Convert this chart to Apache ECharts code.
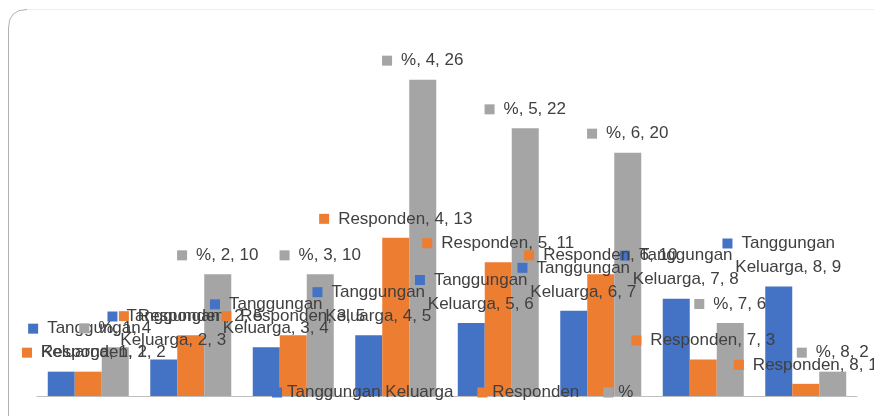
<!DOCTYPE html>
<html>
<head>
<meta charset="utf-8">
<script src="https://cdn.jsdelivr.net/npm/echarts@6/dist/echarts.min.js"></script>
<style>
  html, body { margin: 0; padding: 0; background: #fff; }
  #main { width: 874px; height: 416px; }
</style>
</head>
<body>
<div id="main"></div>
<script>
var categories = ['1', '2', '3', '4', '5', '6', '7', '8'];
var tanggungan = [2, 3, 4, 5, 6, 7, 8, 9];
var responden = [2, 5, 5, 13, 11, 10, 3, 1];
var persen = [4, 10, 10, 26, 22, 20, 6, 2];

var BLUE = '#4472C4', ORANGE = '#ED7D31', GRAY = '#A5A5A5';
var FONT = 'Liberation Sans';

var myChart = echarts.init(document.getElementById('main'));

function labelOf(color, twoLine) {
    return {
        show: true,
        position: 'top',
        distance: 7,
        color: '#404040',
        fontFamily: FONT,
        fontSize: 17,
        lineHeight: 24,
        formatter: function (p) {
            if (twoLine) {
                return '{sq|}{gap|}Tanggungan\n{sp|}{gap|}Keluarga, ' + p.name + ', ' + p.value;
            }
            return '{sq|}{gap|}' + p.seriesName + ', ' + p.name + ', ' + p.value;
        },
        rich: {
            sq: { width: 10, height: 10, backgroundColor: color },
            sp: { width: 10, height: 10 },
            gap: { width: 9 }
        }
    };
}

// keep labels inside the chart box on the left
function keepInside(params) {
    var r = params.labelRect;
    if (r.x < 22) return { dx: 22 - r.x };
}

// label of the last blue bar sits higher in the original
var blueData = tanggungan.map(function (v, i) {
    if (i === 7) return { value: v, label: { offset: [0, -37] } };
    return v;
});

var borderStyle = { fill: null, stroke: '#b0b0b0', lineWidth: 1 };

var option = {
    animation: false,
    graphic: [
        { type: 'line', shape: { x1: 8.5, y1: 430, x2: 8.5, y2: 28 }, style: borderStyle },
        { type: 'bezierCurve', shape: { x1: 8.5, y1: 28, cpx1: 8.5, cpy1: 9.5, x2: 27, y2: 9.5 }, style: borderStyle },
        { type: 'line', shape: { x1: 27, y1: 9.5, x2: 880, y2: 9.5 }, style: { stroke: '#eeeeee', lineWidth: 1 } }
    ],
    grid: { left: 37, right: 17, top: 31, bottom: 20 },
    legend: {
        data: ['Tanggungan Keluarga', 'Responden', '%'],
        left: 272,
        top: 384,
        padding: 0,
        icon: 'rect',
        itemWidth: 10,
        itemHeight: 10,
        itemGap: 24,
        textStyle: { color: '#404040', fontFamily: FONT, fontSize: 17 }
    },
    xAxis: {
        type: 'category',
        data: categories,
        axisLine: { lineStyle: { color: '#bfbfbf' } },
        axisTick: { show: false },
        axisLabel: { show: false }
    },
    yAxis: {
        type: 'value',
        min: 0,
        max: 30,
        show: false,
        splitLine: { show: false }
    },
    series: [
        {
            name: 'Tanggungan Keluarga',
            type: 'bar',
            data: blueData,
            barWidth: 27,
            barGap: '0%',
            itemStyle: { color: BLUE },
            label: labelOf(BLUE, true),
            labelLayout: keepInside
        },
        {
            name: 'Responden',
            type: 'bar',
            data: responden,
            barWidth: 27,
            barGap: '0%',
            itemStyle: { color: ORANGE },
            label: labelOf(ORANGE, false),
            labelLayout: keepInside
        },
        {
            name: '%',
            type: 'bar',
            data: persen,
            barWidth: 27,
            barGap: '0%',
            itemStyle: { color: GRAY },
            label: labelOf(GRAY, false),
            labelLayout: keepInside
        }
    ]
};

myChart.setOption(option);
</script>
</body>
</html>
